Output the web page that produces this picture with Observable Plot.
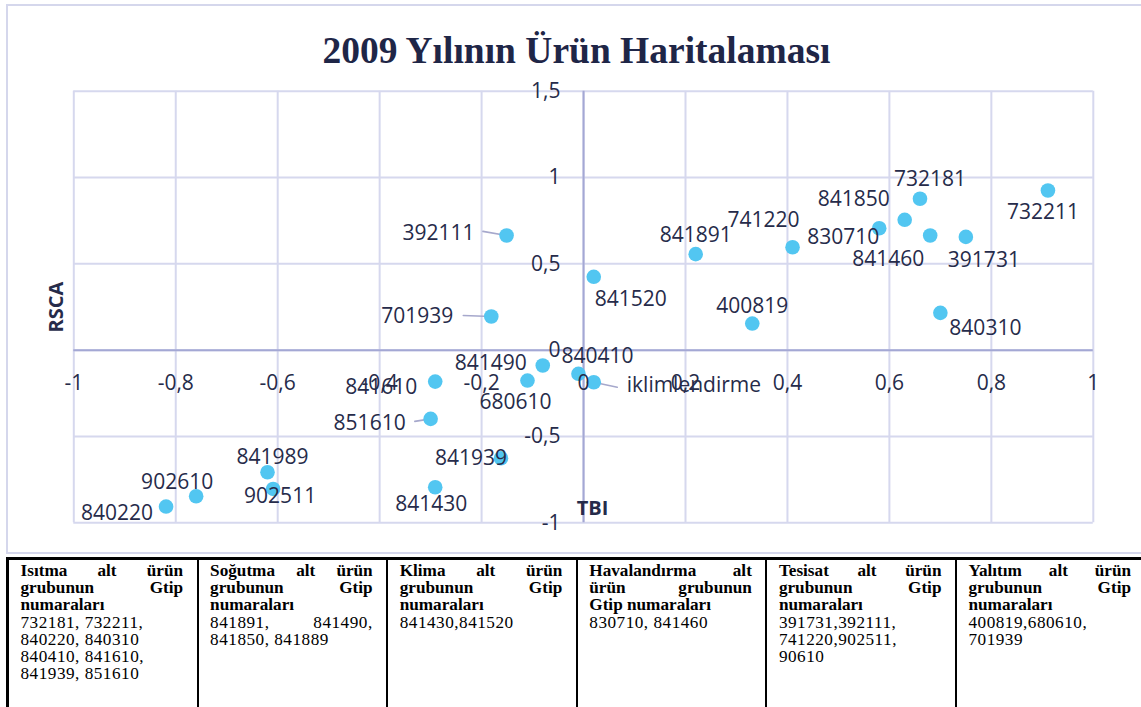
<!DOCTYPE html>
<html>
<head>
<meta charset="utf-8">
<script src="https://cdn.jsdelivr.net/npm/d3@7"></script>
<script src="https://cdn.jsdelivr.net/npm/@observablehq/plot@0.6"></script>
<style>
  body { margin: 0; background: #fff; }
  #page { position: relative; width: 1141px; height: 707px; overflow: hidden; background: #fff; }
  #frame { position: absolute; left: 6px; top: 4px; width: 1160px; height: 550px; border: 2px solid #d5d7ec; box-sizing: border-box; }
  #title { position: absolute; left: 6px; width: 1141px; top: 32px; text-align: center;
           font: bold 37.5px/38px "Liberation Serif", "Times New Roman", serif; color: #1f2647; white-space: nowrap; }
  #chart { position: absolute; left: 0; top: 80px; }
  #table { position: absolute; left: 6px; top: 557px; display: flex; border-top: 3px solid #000; border-left: 3px solid #000; height: 170px; }
  .col { width: 189.6px; flex: none; box-sizing: border-box; border-right: 2px solid #000; padding: 2px 13.5px 0 11.5px;
         font: 17.2px/17.2px "Liberation Serif", "Times New Roman", serif; color: #000; }
  .col div { white-space: nowrap; }
  .col div.j { white-space: normal; text-align: justify; text-align-last: justify; }
  .b { font-weight: bold; }
  .n { letter-spacing: 0.5px; }
</style>
</head>
<body>
<div id="page">
  <div id="frame"></div>
  <div id="title"></div>
  <div id="chart"></div>
  <div id="table"></div>
</div>
<script>
// ---- Data ----
const chartTitle = "2009 Yılının Ürün Haritalaması";
const xTitle = "TBI";
const yTitle = "RSCA";

const codes = ["732181","732211","841850","830710","841460","391731","741220","841891","841520","400819","840310",
               "392111","701939","841490","840410","iklimlendirme","680610","841610","851610","841939","841430",
               "841989","902511","902610","840220"];
const tbi  = [0.660, 0.911, 0.630, 0.580, 0.680, 0.750, 0.410, 0.220, 0.020, 0.331, 0.700,
              -0.151, -0.181, -0.080, -0.010, 0.020, -0.110, -0.291, -0.300, -0.162, -0.291,
              -0.620, -0.609, -0.760, -0.819];
const rsca = [0.877, 0.925, 0.755, 0.706, 0.664, 0.656, 0.596, 0.556, 0.425, 0.154, 0.216,
              0.664, 0.195, -0.089, -0.137, -0.186, -0.176, -0.182, -0.398, -0.626, -0.794,
              -0.707, -0.804, -0.846, -0.906];

const xTicks = [-1, -0.8, -0.6, -0.4, -0.2, 0, 0.2, 0.4, 0.6, 0.8, 1];
const xTickLabels = ["-1", "-0,8", "-0,6", "-0,4", "-0,2", "0", "0,2", "0,4", "0,6", "0,8", "1"];
const yTicks = [-1, -0.5, 0, 0.5, 1, 1.5];
const yTickLabels = ["-1", "-0,5", "0", "0,5", "1", "1,5"];

const tableHeads = [
  ["Isıtma alt ürün", "grubunun Gtip", "numaraları"],
  ["Soğutma alt ürün", "grubunun Gtip", "numaraları"],
  ["Klima alt ürün", "grubunun Gtip", "numaraları"],
  ["Havalandırma alt", "ürün grubunun", "Gtip numaraları"],
  ["Tesisat alt ürün", "grubunun Gtip", "numaraları"],
  ["Yalıtım alt ürün", "grubunun Gtip", "numaraları"]
];
const tableCodes = [
  ["732181, 732211,", "840220, 840310", "840410, 841610,", "841939, 851610"],
  ["841891, 841490,", "841850, 841889"],
  ["841430,841520"],
  ["830710, 841460"],
  ["391731,392111,", "741220,902511,", "90610"],
  ["400819,680610,", "701939"]
];
const justifiedCodeLines = ["841891, 841490,"];

// ---- Styles (label placement in pixels relative to each point) ----
const labelPos = {
  "732181": [10, -19], "732211": [-5, 22], "841850": [-51, -21], "830710": [-36, 9],
  "841460": [-42, 24], "391731": [18, 23], "741220": [-29, -27], "841891": [0, -19],
  "841520": [37, 22], "400819": [0, -17], "840310": [45, 15], "392111": [-68, -2],
  "701939": [-74, 0], "841490": [-52, -2], "840410": [19, -18], "iklimlendirme": [33, 3, "start"],
  "680610": [-12, 22], "841610": [-54, 6], "851610": [-61, 4], "841939": [-30, 0],
  "841430": [-4, 17], "841989": [5, -15], "902511": [7, 7], "902610": [-19, -14], "840220": [-49, 7]
};
const leaderStyle = { // [length px, rotate deg, dy]
  "392111": [24, -80, 0], "701939": [28, -88, 0], "851610": [16, -99, 0], "iklimlendirme": [24, 102, 0]
};

const ink = "#262b4a";
const gridColor = "#d6d8ee";
const axisColor = "#a4a8d4";
const dotColor = "#52c6f1";
const leaderColor = "#a6a8cc";
const labelFont = "Open Sans";

// ---- Title ----
document.getElementById("title").textContent = chartTitle;

// ---- Chart ----
const data = codes.map((c, i) => ({code: c, tbi: tbi[i], rsca: rsca[i]}));
const lineShape = { draw(context, l) { context.moveTo(0, 0); context.lineTo(0, -l); } };

const marks = [
  Plot.ruleX(xTicks, {x: d => d, y1: () => yTicks[0], y2: () => yTicks[yTicks.length - 1], stroke: gridColor, strokeWidth: 2}),
  Plot.ruleY(yTicks, {y: d => d, x1: () => xTicks[0], x2: () => xTicks[xTicks.length - 1], stroke: gridColor, strokeWidth: 2}),
  Plot.ruleX([0], {stroke: axisColor, strokeWidth: 2}),
  Plot.ruleY([0], {stroke: axisColor, strokeWidth: 2}),
  ...data.filter(d => leaderStyle[d.code]).map(d => {
    const s = leaderStyle[d.code];
    return Plot.vector([d], {x: "tbi", y: "rsca", length: s[0], rotate: s[1], dy: s[2], anchor: "start",
      shape: lineShape, stroke: leaderColor, strokeWidth: 1.6});
  }),
  Plot.dot(data, {x: "tbi", y: "rsca", r: 7.3, fill: dotColor}),
  Plot.text(xTicks, {x: d => d, y: () => 0, text: (d, i) => xTickLabels[i], dy: 33,
    fontFamily: labelFont, fontSize: 21, fill: ink}),
  Plot.text(yTicks, {x: () => 0, y: d => d, text: (d, i) => yTickLabels[i], dx: -23, textAnchor: "end",
    fontFamily: labelFont, fontSize: 21, fill: ink}),
  ...data.map(d => {
    const p = labelPos[d.code];
    return Plot.text([d], {x: "tbi", y: "rsca", text: "code", dx: p[0], dy: p[1], textAnchor: p[2] || "middle",
      fontFamily: labelFont, fontSize: 21, fill: ink});
  }),
  Plot.text([yTitle], {frameAnchor: "left", text: d => d, rotate: -90, dx: -17, textAnchor: "middle", lineAnchor: "middle",
    fontFamily: labelFont, fontSize: 20, fontWeight: "bold", fill: ink}),
  Plot.text([xTitle], {frameAnchor: "bottom", text: d => d, dx: 9, dy: -14, textAnchor: "middle", lineAnchor: "middle",
    fontFamily: labelFont, fontSize: 20, fontWeight: "bold", fill: ink})
];

const plot = Plot.plot({
  width: 1141,
  height: 475,
  marginLeft: 73.3,
  marginRight: 48.2,
  marginTop: 10.7,
  marginBottom: 32.7,
  x: {domain: [xTicks[0], xTicks[xTicks.length - 1]], axis: null},
  y: {domain: [yTicks[0], yTicks[yTicks.length - 1]], axis: null},
  style: {background: "none", overflow: "visible"},
  marks
});
document.getElementById("chart").appendChild(plot);

// ---- Table ----
const table = document.getElementById("table");
tableHeads.forEach((head, i) => {
  const col = document.createElement("div");
  col.className = "col";
  head.forEach((line, k) => {
    const el = document.createElement("div");
    el.className = "b" + (k < head.length - 1 ? " j" : "");
    el.textContent = line;
    col.appendChild(el);
  });
  tableCodes[i].forEach(line => {
    const el = document.createElement("div");
    el.className = "n" + (justifiedCodeLines.includes(line) ? " j" : "");
    el.textContent = line;
    col.appendChild(el);
  });
  table.appendChild(col);
});
</script>
</body>
</html>
